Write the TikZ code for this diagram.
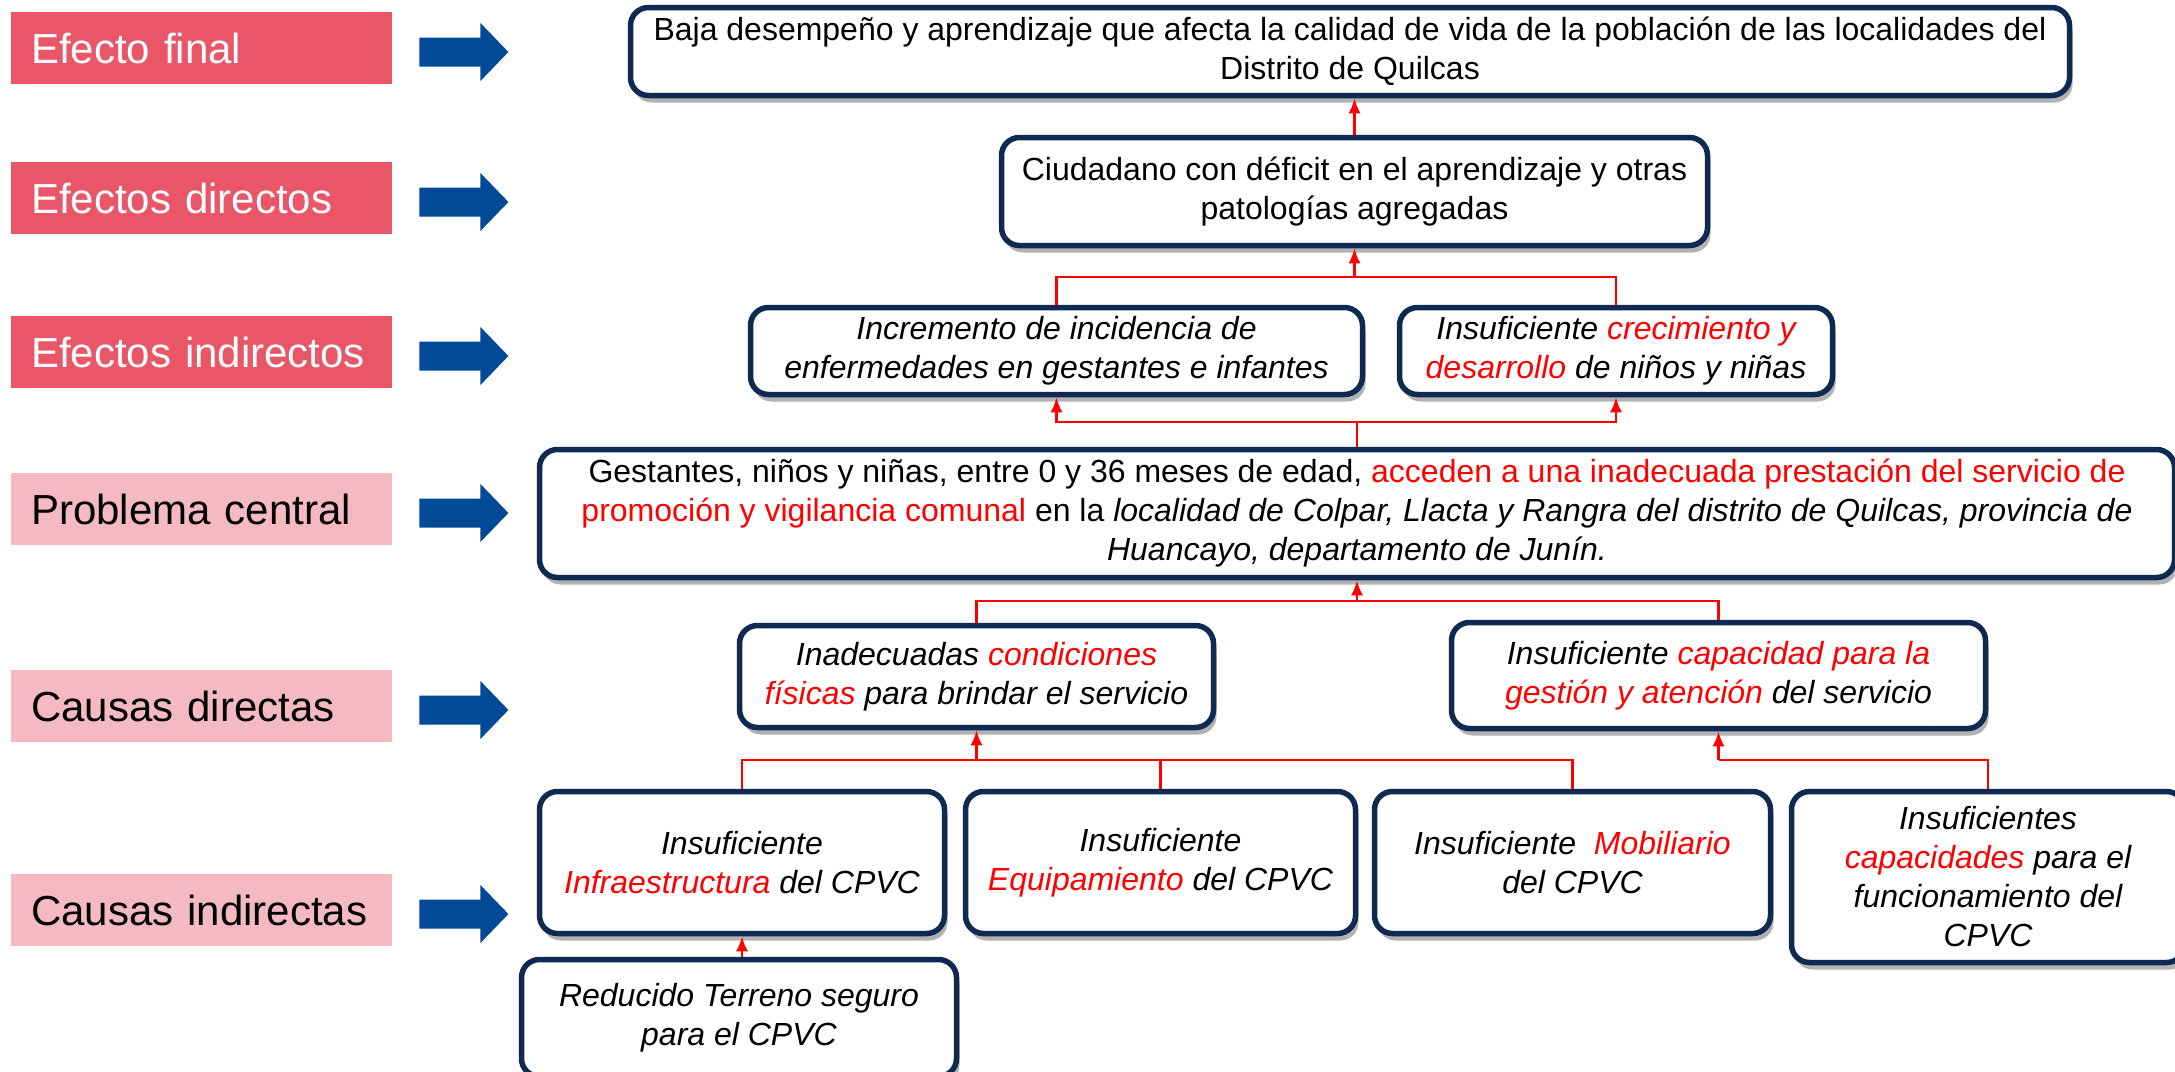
\documentclass[tikz,border=0pt]{standalone}
\usepackage{fontspec}
\setmainfont{Liberation Sans}
\usetikzlibrary{shadows,arrows.meta}
\definecolor{navy}{HTML}{0E2A52}
\definecolor{labdark}{HTML}{E95668}
\definecolor{lablight}{HTML}{F4B9C1}
\definecolor{arrblue}{HTML}{004A98}
\definecolor{rd}{HTML}{FF0000}
\newcommand{\rt}[1]{\textcolor{rd}{#1}}
\begin{document}
\begin{tikzpicture}[x=1pt,y=-1pt,
 box/.style={draw=navy, line width=5.5pt, rounded corners=18pt, fill=white, align=center, inner sep=0pt,
   font=\fontsize{32}{39}\selectfont,
   drop shadow={shadow xshift=3pt,shadow yshift=-7pt,opacity=0.3,fill=black}},
 ibox/.style={box, font=\fontsize{32}{39}\selectfont\itshape},
 lab/.style={minimum width=381pt, minimum height=72pt, text width=341pt, align=left, inner xsep=20pt,
   inner ysep=0pt, font=\fontsize{42}{50}\selectfont, anchor=west},
 labA/.style={lab, fill=labdark, text=white},
 labB/.style={lab, fill=lablight, text=black},
 conn/.style={draw=rd, line width=2.6pt},
 arr/.style={conn, -{Latex[length=15pt,width=12pt]}}
]
\useasboundingbox (0,0) rectangle (2175,1071);
\fill[white] (0,0) rectangle (2175,1071);

% row labels
\node[labA] (L1) at (11,48) {Efecto final};
\node[labA] (L2) at (11,198) {Efectos directos};
\node[labA] (L3) at (11,352) {Efectos indirectos};
\node[labB] (L4) at (11,509) {Problema central};
\node[labB] (L5) at (11,706) {Causas directas};
\node[labB] (L6) at (11,910) {Causas indirectas};
\foreach \i in {1,...,6}
  \fill[arrblue] ([shift={(27,-10.5)}]L\i.east) -- ++(61,0) -- ++(0,-14.5) -- ++(28,29)
     -- ++(-28,29) -- ++(0,-14.5) -- ++(-61,0) -- cycle;

% boxes
\node[box, minimum width=1439pt, minimum height=88pt] (B1) at (1350,51.5)
  {Baja desempeño y aprendizaje que afecta la calidad de vida de la población de las localidades del\\Distrito de Quilcas};
\node[box, minimum width=706pt, minimum height=108pt] (B2) at (1354.5,191.5)
  {Ciudadano con déficit en el aprendizaje y otras\\patologías agregadas};
\node[ibox, minimum width=612pt, minimum height=87pt] (B3) at (1056.5,351)
  {Incremento de incidencia de\\enfermedades en gestantes e infantes};
\node[ibox, minimum width=433pt, minimum height=87pt] (B4) at (1616,351)
  {Insuficiente \rt{crecimiento y}\\\rt{desarrollo} de niños y niñas};
\node[box, minimum width=1635pt, minimum height=128pt] (B5) at (1357,513.5)
  {Gestantes, niños y niñas, entre 0 y 36 meses de edad, \rt{acceden a una inadecuada prestación del servicio de}\\
   \rt{promoción y vigilancia comunal} en la \textit{localidad de Colpar, Llacta y Rangra del distrito de Quilcas, provincia de}\\
   \textit{Huancayo, departamento de Junín.}};
\node[ibox, minimum width=474pt, minimum height=102pt] (B6) at (976.5,676.5)
  {Inadecuadas \rt{condiciones}\\\rt{físicas} para brindar el servicio};
\node[ibox, minimum width=534pt, minimum height=106pt] (B7) at (1718.5,675.5)
  {Insuficiente \rt{capacidad para la}\\\rt{gestión y atención} del servicio};
\node[ibox, minimum width=405pt, minimum height=142pt] (B8) at (742,862.5)
  {Insuficiente\\\rt{Infraestructura} del CPVC};
\node[ibox, minimum width=390pt, minimum height=142pt] (B9) at (1160.5,862.5)
  {Insuficiente\\\rt{Equipamiento} del CPVC};
\node[ibox, minimum width=396pt, minimum height=142pt] (B10) at (1572.5,862.5)
  {Insuficiente~ \rt{Mobiliario}\\del CPVC};
\node[ibox, minimum width=393pt, minimum height=171pt] (B11) at (1988,877)
  {Insuficientes\\\rt{capacidades} para el\\funcionamiento del\\CPVC};
\node[ibox, minimum width=435pt, minimum height=117pt] (B12) at (739,1018)
  {Reducido Terreno seguro\\para el CPVC};

% connectors
\draw[arr] (B2.north) -- (B2.north |- B1.south);
\coordinate (j1) at (B2.south |- 0,277);
\draw[conn] (B3.north) |- (j1) -| (B4.north);
\draw[arr] (j1) -- (B2.south);

\coordinate (j2) at (B5.north |- 0,422);
\draw[conn] (B5.north) -- (j2);
\draw[arr] (j2) -| (B3.south);
\draw[arr] (j2) -| (B4.south);

\coordinate (j3) at (B5.south |- 0,601);
\draw[conn] (B6.north) |- (j3) -| (B7.north);
\draw[arr] (j3) -- (B5.south);

\coordinate (j4) at (B6.south |- 0,760);
\draw[conn] (B8.north) |- (j4) -| (B10.north);
\draw[conn] (B9.north) -- (B9.north |- j4);
\draw[arr] (j4) -- (B6.south);

\coordinate (j5) at (B7.south |- 0,760);
\draw[conn] (B11.north) |- (j5);
\draw[arr] (j5) -- (B7.south);

\draw[arr] (B8.south |- B12.north) -- (B8.south);
\end{tikzpicture}
\end{document}
